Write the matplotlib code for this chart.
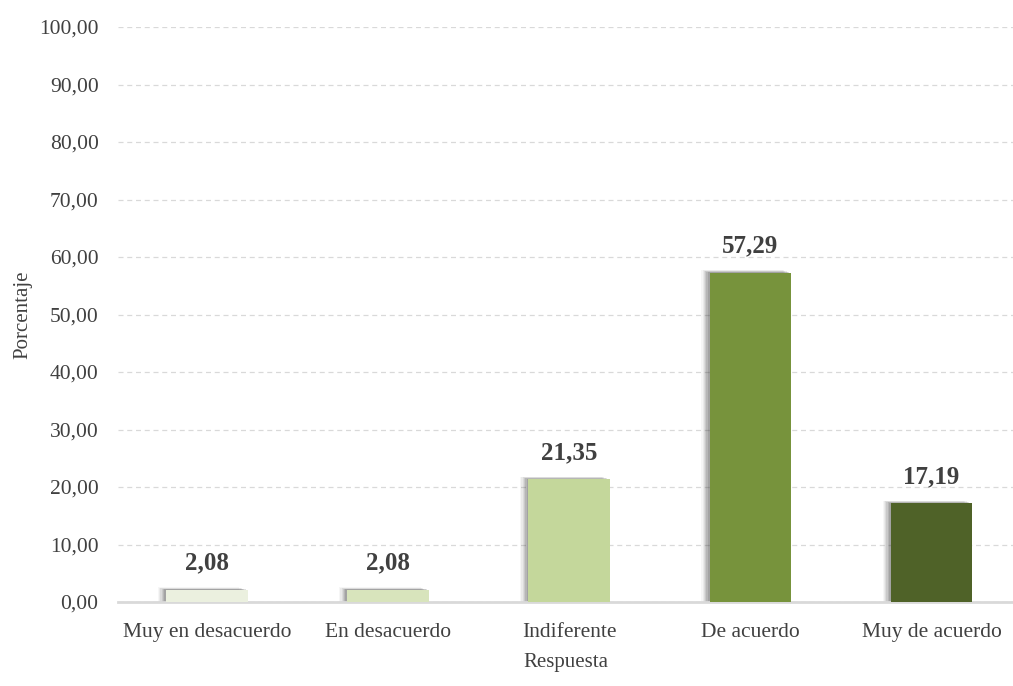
import numpy as np
import matplotlib.pyplot as plt

# Datos
respuestas = ["Muy en desacuerdo", "En desacuerdo", "Indiferente",
              "De acuerdo", "Muy de acuerdo"]
porcentajes = [2.08, 2.08, 21.35, 57.29, 17.19]
colores = ["#EBF0DF", "#D8E4BC", "#C4D79B", "#77933C", "#4F6228"]

plt.rcParams["font.family"] = ["Liberation Serif", "DejaVu Serif"]

fig = plt.figure(figsize=(10.13, 6.86), dpi=100)
ax = fig.add_axes([0.1165, 0.1224, 0.8835, 0.8382])

x = np.arange(len(respuestas))
ancho = 0.45

# Sombra difusa hacia la izquierda
for k, a in zip([0.045, 0.038, 0.031, 0.024, 0.017, 0.010],
                [0.04, 0.06, 0.08, 0.10, 0.12, 0.14]):
    ax.bar(x - k, np.array(porcentajes) + k * 10, width=ancho,
           color="#303030", alpha=a, linewidth=0, zorder=2)

barras = ax.bar(x, porcentajes, width=ancho, color=colores,
                linewidth=0, zorder=3)

for xi, v in zip(x, porcentajes):
    ax.annotate(f"{v:.2f}".replace(".", ","), (xi, v),
                xytext=(0, 11), textcoords="offset points",
                ha="center", va="bottom", fontsize=18,
                fontweight="bold", color="#404040", zorder=4)

ax.set_ylim(0, 100)
ax.set_xlim(-0.49, 4.45)
ax.set_yticks(np.arange(0, 101, 10))
ax.set_yticklabels([f"{t:.2f}".replace(".", ",") for t in range(0, 101, 10)])
ax.set_xticks(x)
ax.set_xticklabels(respuestas)
ax.tick_params(axis="both", length=0, labelsize=15.5, colors="#404040")
ax.tick_params(axis="x", pad=15)
ax.tick_params(axis="y", pad=14)

ax.yaxis.grid(True, linestyle=(0, (4, 3)), color="#D9D9D9",
              linewidth=0.9, zorder=0)
ax.set_axisbelow(True)
for lado in ["top", "right", "left"]:
    ax.spines[lado].set_visible(False)
ax.spines["bottom"].set_color("#D9D9D9")
ax.spines["bottom"].set_linewidth(2)

ax.set_ylabel("Porcentaje", fontsize=15, color="#404040", labelpad=5)
ax.set_xlabel("Respuesta", fontsize=15, color="#404040", labelpad=8)

fig.savefig("out.png", dpi=100)
